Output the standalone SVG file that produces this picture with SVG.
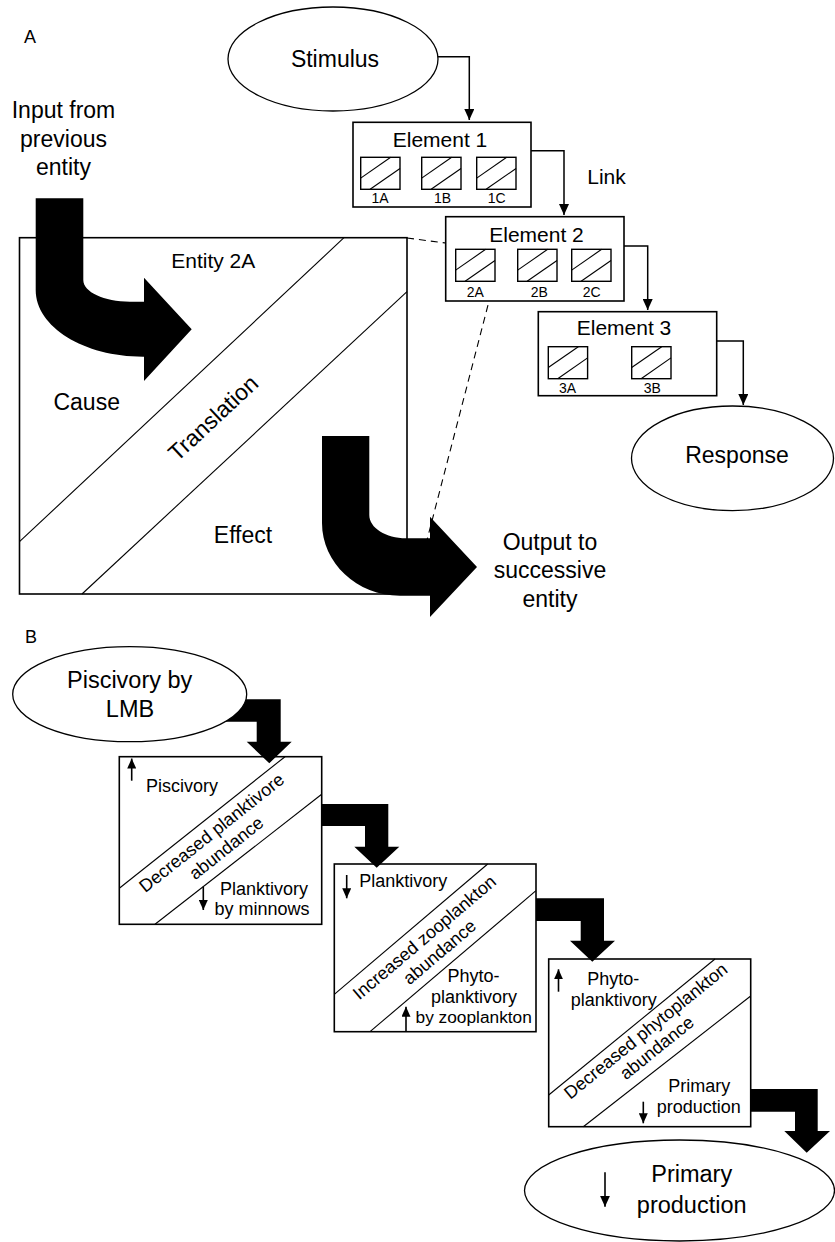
<svg xmlns="http://www.w3.org/2000/svg" xmlns:xlink="http://www.w3.org/1999/xlink" width="835" height="1242" viewBox="0 0 835 1242">
<style>
text { font-family: "Liberation Sans", Arial, Helvetica, sans-serif; fill: #000; }
.big { font-size: 23px; }
.mid { font-size: 21px; }
.lbl { font-size: 18px; }
.sm { font-size: 14px; }
.c { text-anchor: middle; }
.box { fill: #fff; stroke: #000; stroke-width: 1.6; }
.obox { fill: none; stroke: #000; stroke-width: 1.6; }
.ell { fill: #fff; stroke: #000; stroke-width: 1.3; }
.diag { stroke: #000; stroke-width: 1.1; fill: none; }
.conn { fill: none; stroke: #000; stroke-width: 1.5; }
.dash { fill: none; stroke: #000; stroke-width: 1.1; stroke-dasharray: 7 5; }
.thick { fill: #000; stroke: none; }
.tiny { fill: none; stroke: #000; stroke-width: 1.6; }
</style>
<defs>
<marker id="ah" viewBox="0 0 11 10" refX="11" refY="5" markerWidth="11" markerHeight="10" markerUnits="userSpaceOnUse" orient="auto">
<path d="M0,0 L11,5 L0,10 Z" fill="#000"/>
</marker>
<marker id="ahs" viewBox="0 0 10 9" refX="10" refY="4.5" markerWidth="10" markerHeight="9" markerUnits="userSpaceOnUse" orient="auto">
<path d="M0,0 L10,4.5 L0,9 Z" fill="#000"/>
</marker>
<g id="cell">
<rect x="0" y="0" width="39.3" height="32" fill="#fff" stroke="#000" stroke-width="1.4"/>
<line x1="0" y1="20.8" x2="30" y2="0" stroke="#000" stroke-width="1.1"/>
<line x1="9.4" y1="32" x2="39.3" y2="11.2" stroke="#000" stroke-width="1.1"/>
</g>
</defs>
<rect x="0" y="0" width="835" height="1242" fill="#fff"/>

<text x="24" y="42.7" style="font-size:18px">A</text>
<text x="25" y="643.3" style="font-size:18px">B</text>

<g id="input-label">
<text class="big c" x="63.5" y="118">Input from</text>
<text class="big c" x="63.5" y="146.7">previous</text>
<text class="big c" x="63.5" y="175">entity</text>
</g>

<g id="entity2A">
<rect class="box" x="19.5" y="237.7" width="387.5" height="356.3"/>
<line class="diag" x1="344" y1="237.7" x2="19.5" y2="541.7"/>
<line class="diag" x1="407" y1="291.7" x2="82" y2="594"/>
<text class="mid c" x="213.3" y="268.3">Entity 2A</text>
<text class="big c" x="86.7" y="410">Cause</text>
<text class="big c" x="243" y="542.7">Effect</text>
<g transform="translate(213,418) rotate(-43)">
<text class="big c" x="0" y="8" fill="#000">Translation</text>
</g>
</g>

<g id="connectors">
<path class="conn" d="M438,56.7 H469.3 V120" marker-end="url(#ah)"/>
<path class="conn" d="M531,150.7 H564 V215" marker-end="url(#ah)"/>
<path class="conn" d="M624,246 H647.7 V310" marker-end="url(#ah)"/>
<path class="conn" d="M716.7,341 H743.3 V405" marker-end="url(#ah)"/>
<line class="dash" x1="407" y1="238" x2="492" y2="249"/>
<line class="dash" x1="494" y1="282" x2="427" y2="540"/>
<path class="thick" d="M35.7,198.3 H83.3 V280 C83.3,292 104,301.7 130,301.7 H144 V277.7 L191.7,329.3 L144,381 V356.7 H143 C84,356.7 35.7,327 35.7,290 Z"/>
<path class="thick" d="M322,436 H369.3 V515 C369.3,528 386,538.3 406,538.3 H430 V516.7 L477,567 L430,617 V595.7 H400 C357,595.7 322,563 322,523 Z"/>
<polygon class="thick" points="200,699.3 280.7,699.3 280.7,741.7 291.7,741.7 269.3,763.3 246.7,741.7 256.7,741.7 256.7,721.7 200,721.7"/>
<polygon class="thick" points="321.7,804 388.3,804 388.3,846.7 399.3,846.7 376.7,867.7 354.3,846.7 365,846.7 365,826 321.7,826"/>
<polygon class="thick" points="536,898.3 604,898.3 604,940.7 615,940.7 592.3,961.7 570,940.7 580.7,940.7 580.7,921 536,921"/>
<polygon class="thick" points="750.7,1089 817.7,1089 817.7,1131 830,1131 806.7,1152.7 784.3,1131 795,1131 795,1111.7 750.7,1111.7"/>
</g>

<g id="output-label">
<text class="big c" x="550" y="550">Output to</text>
<text class="big c" x="550" y="578.3">successive</text>
<text class="big c" x="550" y="607">entity</text>
</g>

<g id="stimulus">
<ellipse class="ell" cx="333" cy="59" rx="105" ry="52"/>
<text class="big c" x="335" y="66.7">Stimulus</text>
</g>

<g id="element1">
<rect class="box" x="353" y="122.3" width="178" height="84.7"/>
<text class="mid c" x="440" y="146.7">Element 1</text>
<use xlink:href="#cell" x="360.7" y="157.3"/>
<use xlink:href="#cell" x="421.7" y="157.3"/>
<use xlink:href="#cell" x="476.7" y="157.3"/>
<text class="sm c" x="380" y="203.3">1A</text>
<text class="sm c" x="442.5" y="203.3">1B</text>
<text class="sm c" x="496.7" y="203.3">1C</text>
</g>
<text class="mid c" x="606.5" y="184">Link</text>

<g id="element2">
<rect class="box" x="445.7" y="216.7" width="178.3" height="84.3"/>
<text class="mid c" x="536.5" y="241.7">Element 2</text>
<use xlink:href="#cell" x="455.7" y="249.3"/>
<use xlink:href="#cell" x="517.7" y="249.3"/>
<use xlink:href="#cell" x="571.7" y="249.3"/>
<text class="sm c" x="475.3" y="296.7">2A</text>
<text class="sm c" x="539.2" y="296.7">2B</text>
<text class="sm c" x="591.7" y="296.7">2C</text>
</g>

<g id="element3">
<rect class="box" x="538.3" y="311.7" width="178.4" height="84"/>
<text class="mid c" x="624" y="335">Element 3</text>
<use xlink:href="#cell" x="548.3" y="346.7"/>
<use xlink:href="#cell" x="631.7" y="346.7"/>
<text class="sm c" x="567.5" y="392.7">3A</text>
<text class="sm c" x="652.2" y="392.7">3B</text>
</g>

<g id="response">
<ellipse class="ell" cx="732.5" cy="458.3" rx="101" ry="52.3"/>
<text class="big c" x="737" y="463.3">Response</text>
</g>

<g id="piscivory-lmb">
<ellipse class="ell" cx="129.7" cy="694.2" rx="117" ry="47.5"/>
<text class="big c" x="129.7" y="688.3" style="font-size:23.5px">Piscivory by</text>
<text class="big c" x="130" y="717.3" style="font-size:23.5px">LMB</text>
</g>

<g id="box1">
<rect class="obox" x="119.3" y="756.7" width="202.4" height="167.6"/>
<line class="diag" x1="285" y1="756.7" x2="119.3" y2="888.3"/>
<line class="diag" x1="321.7" y1="794.3" x2="155" y2="924.3"/>
<line class="tiny" x1="131.7" y1="780.7" x2="131.7" y2="758.5" marker-end="url(#ahs)"/>
<text class="lbl" x="146" y="791.7">Piscivory</text>
<g transform="translate(202.2,822.5) rotate(-38.5)">
<text class="lbl c" x="1" y="20">Decreased planktivore</text>
<text class="lbl c" x="3" y="41">abundance</text>
</g>
<line class="tiny" x1="203.3" y1="886.7" x2="203.3" y2="910" marker-end="url(#ahs)"/>
<text class="lbl c" x="264" y="895">Planktivory</text>
<text class="lbl c" x="262" y="915">by minnows</text>
</g>

<g id="box2">
<rect class="obox" x="334.3" y="864" width="201.7" height="167.7"/>
<line class="diag" x1="487.7" y1="864" x2="334.3" y2="994.3"/>
<line class="diag" x1="536" y1="890.7" x2="370" y2="1031.7"/>
<line class="tiny" x1="346.7" y1="875" x2="346.7" y2="898.3" marker-end="url(#ahs)"/>
<text class="lbl" x="359.3" y="886.7">Planktivory</text>
<g transform="translate(411,929.2) rotate(-40.3)">
<text class="lbl c" x="5" y="21">Increased zooplankton</text>
<text class="lbl c" x="7" y="42">abundance</text>
</g>
<text class="lbl c" x="473.5" y="981.7">Phyto-</text>
<text class="lbl c" x="474" y="1003.3">planktivory</text>
<text class="lbl c" x="473.7" y="1022.7" style="font-size:17.3px">by zooplankton</text>
<line class="tiny" x1="406" y1="1031.7" x2="406" y2="1006.7" marker-end="url(#ahs)"/>
</g>

<g id="box3">
<rect class="obox" x="548.7" y="959" width="202" height="167.7"/>
<line class="diag" x1="715" y1="959" x2="548.7" y2="1095"/>
<line class="diag" x1="750.7" y1="996" x2="583.3" y2="1126.7"/>
<line class="tiny" x1="558.5" y1="991.7" x2="558.5" y2="969.3" marker-end="url(#ahs)"/>
<text class="lbl c" x="613.3" y="985">Phyto-</text>
<text class="lbl c" x="613.8" y="1006">planktivory</text>
<g transform="translate(632,1026.7) rotate(-39)">
<text class="lbl c" x="8" y="18">Decreased phytoplankton</text>
<text class="lbl c" x="6" y="38">abundance</text>
</g>
<text class="lbl c" x="699.3" y="1091.7">Primary</text>
<text class="lbl c" x="698.7" y="1113.3">production</text>
<line class="tiny" x1="643.3" y1="1101.7" x2="643.3" y2="1123.3" marker-end="url(#ahs)"/>
</g>

<g id="primary-production">
<ellipse class="ell" cx="679.5" cy="1190.5" rx="155" ry="50.5"/>
<line class="tiny" x1="605" y1="1172.3" x2="605" y2="1206.7" marker-end="url(#ah)"/>
<text class="big c" x="691.7" y="1181.7" style="font-size:23.5px">Primary</text>
<text class="big c" x="691.7" y="1213.3" style="font-size:23.5px">production</text>
</g>
</svg>
